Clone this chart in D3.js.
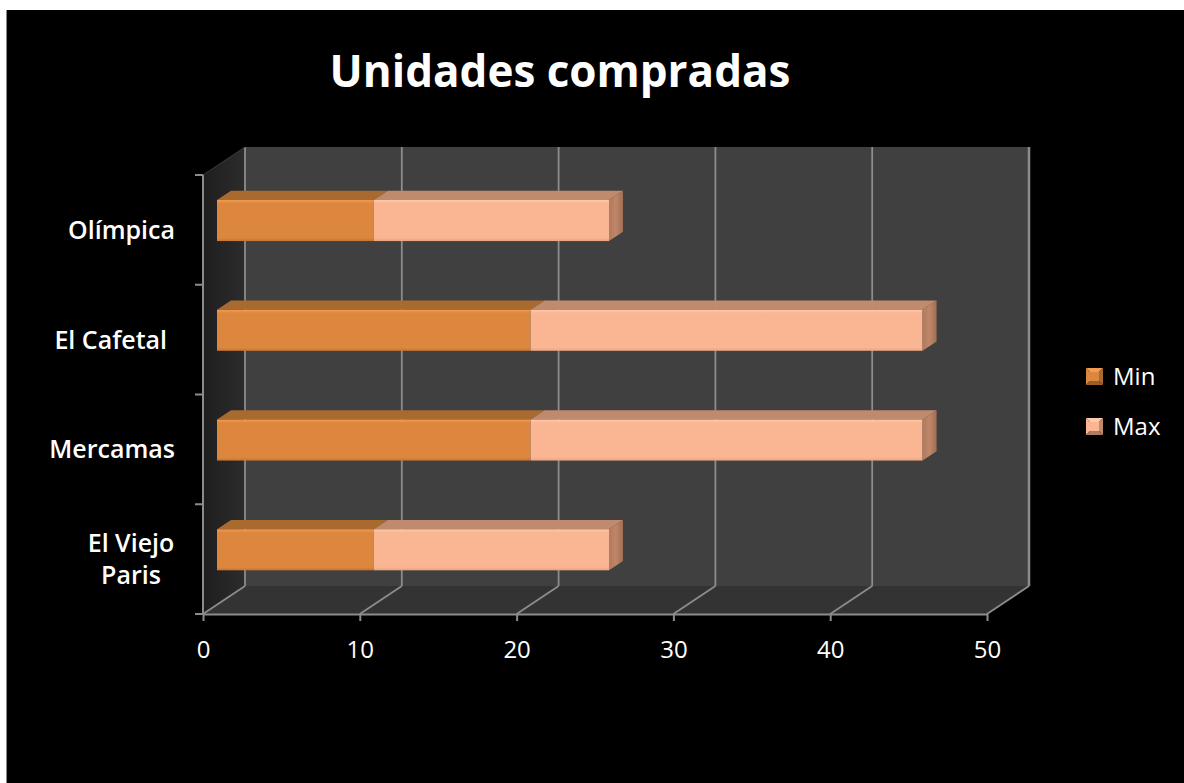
<!DOCTYPE html>
<html>
<head>
<meta charset="utf-8">
<script src="https://cdn.jsdelivr.net/npm/d3@7"></script>
<style>
  body { margin: 0; background: #fff; }
  text { font-family: "Open Sans", "DejaVu Sans", sans-serif; fill: #fff; }
</style>
</head>
<body>
<div id="chart"></div>
<script>
// data
var categories = ["El Viejo Paris", "Mercamas", "El Cafetal", "Olímpica"];
var minValues = [10, 20, 20, 10];
var maxValues = [15, 25, 25, 15];
var seriesNames = ["Min", "Max"];
var xTicks = [0, 10, 20, 30, 40, 50];
var chartTitle = "Unidades compradas";

var W = 1184, H = 783;

var svg = d3.select("#chart").append("svg")
    .attr("width", W)
    .attr("height", H);

var defs = svg.append("defs");

// black panel
svg.append("rect").attr("x", 6).attr("y", 10).attr("width", W - 6).attr("height", H - 10).attr("fill", "#000");
svg.append("line").attr("x1", 6.5).attr("x2", 6.5).attr("y1", 10).attr("y2", H).attr("stroke", "#8a8a8a").attr("stroke-width", 1);

///////////////// scales ///////////////////////
var x = d3.scaleLinear().domain([0, 50]).range([203, 987]);
var y = d3.scaleBand().domain(categories).range([614, 175]).paddingInner(0.626).paddingOuter(0.313);
var depth = { dx: 42, dy: -28 };   // full 3d depth of plot box

var yTop = 175, yBot = 614;

// walls
var gradWall = defs.append("linearGradient").attr("id", "wallGrad").attr("x1", 0).attr("x2", 1).attr("y1", 0).attr("y2", 0);
gradWall.append("stop").attr("offset", "0%").attr("stop-color", "#1e1e1e");
gradWall.append("stop").attr("offset", "100%").attr("stop-color", "#2c2c2c");

svg.append("rect")
    .attr("x", x(0) + depth.dx).attr("y", yTop + depth.dy)
    .attr("width", x(50) - x(0)).attr("height", yBot - yTop)
    .attr("fill", "#404040");

svg.append("path")
    .attr("d", "M" + x(0) + "," + yTop + "L" + (x(0) + depth.dx) + "," + (yTop + depth.dy) +
      "L" + (x(0) + depth.dx) + "," + (yBot + depth.dy) + "L" + x(0) + "," + yBot + "Z")
    .attr("fill", "url(#wallGrad)");

svg.append("path")
    .attr("d", "M" + x(0) + "," + yBot + "L" + x(50) + "," + yBot +
      "L" + (x(50) + depth.dx) + "," + (yBot + depth.dy) + "L" + (x(0) + depth.dx) + "," + (yBot + depth.dy) + "Z")
    .attr("fill", "#333333");

// grid lines (back wall + floor)
var grid = svg.append("g").attr("class", "grid");
grid.selectAll(".gv").data(xTicks).enter().append("line")
    .attr("x1", function(d) { return x(d) + depth.dx; })
    .attr("x2", function(d) { return x(d) + depth.dx; })
    .attr("y1", yTop + depth.dy)
    .attr("y2", yBot + depth.dy)
    .attr("stroke", "#8c8c8c")
    .attr("stroke-width", function(d, i) { return i == xTicks.length - 1 ? 2.5 : 1.8; });
grid.selectAll(".gd").data(xTicks).enter().append("line")
    .attr("x1", function(d) { return x(d); })
    .attr("x2", function(d) { return x(d) + depth.dx; })
    .attr("y1", yBot)
    .attr("y2", yBot + depth.dy)
    .attr("stroke", "#8c8c8c")
    .attr("stroke-width", 1.8);
// top edge of left wall
grid.append("line")
    .attr("x1", x(0)).attr("y1", yTop).attr("x2", x(0) + depth.dx).attr("y2", yTop + depth.dy)
    .attr("stroke", "#3a3a3a").attr("stroke-width", 1);

///////////////// axes ///////////////////////
var xAxis = svg.append("g")
    .attr("transform", "translate(0," + yBot + ")")
    .call(d3.axisBottom(x).tickValues(xTicks).tickSize(7).tickSizeOuter(0).tickPadding(20));
xAxis.select(".domain").attr("stroke", "#8c8c8c").attr("stroke-width", 2);
xAxis.selectAll(".tick line").attr("stroke", "#8c8c8c").attr("stroke-width", 2);
xAxis.selectAll(".tick text")
    .attr("fill", "#fff")
    .style("font-family", "'Open Sans', sans-serif")
    .style("font-size", "24px");

// vertical axis line + ticks at band boundaries
var yAxisG = svg.append("g");
yAxisG.append("line")
    .attr("x1", x(0)).attr("x2", x(0)).attr("y1", yTop).attr("y2", yBot)
    .attr("stroke", "#8c8c8c").attr("stroke-width", 2);
var bounds = categories.map(function(c) { return y(c) - y.step() * y.paddingInner() / 2; });
bounds.push(yBot);
yAxisG.selectAll(".yt").data(bounds).enter().append("line")
    .attr("x1", x(0) - 8).attr("x2", x(0))
    .attr("y1", function(d) { return d; }).attr("y2", function(d) { return d; })
    .attr("stroke", "#8c8c8c").attr("stroke-width", 2);

// category labels
var catLabels = svg.append("g");
categories.forEach(function(c) {
  var cy = y(c) + y.bandwidth() / 2;
  if (c == "El Viejo Paris") {
    var t = catLabels.append("text")
        .attr("text-anchor", "middle")
        .attr("x", 131)
        .attr("y", cy - 7)
        .style("font-size", "25px").style("font-weight", 600);
    t.append("tspan").attr("x", 131).text("El Viejo");
    t.append("tspan").attr("x", 131).attr("dy", 32).text("Paris");
  } else {
    catLabels.append("text")
        .attr("text-anchor", "end")
        .attr("x", c == "El Cafetal" ? 167 : 175)
        .attr("y", cy + 9)
        .style("font-size", "25px").style("font-weight", 600)
        .text(c);
  }
});

///////////////// bars ///////////////////////
var stackData = categories.map(function(c, i) {
  return { cat: c, Min: minValues[i], Max: maxValues[i] };
});
var stack = d3.stack().keys(seriesNames)(stackData);

var colors = {
  Min: { front: "#dd873e", hi: "#f59c52", lo: "#c97632", top: "#a96a30", side: "#9a5e28" },
  Max: { front: "#fab692", hi: "#ffcaa9", lo: "#e8a47f", top: "#c08a6f", side: "#b07b5f" }
};

seriesNames.forEach(function(k) {
  var c = colors[k];
  var g = defs.append("linearGradient").attr("id", "front" + k).attr("x1", 0).attr("x2", 0).attr("y1", 0).attr("y2", 1);
  g.append("stop").attr("offset", "0%").attr("stop-color", c.hi);
  g.append("stop").attr("offset", "8%").attr("stop-color", c.front);
  g.append("stop").attr("offset", "92%").attr("stop-color", c.front);
  g.append("stop").attr("offset", "100%").attr("stop-color", c.lo);
  var s = defs.append("linearGradient").attr("id", "side" + k).attr("x1", 0).attr("x2", 1).attr("y1", 0).attr("y2", 0);
  s.append("stop").attr("offset", "0%").attr("stop-color", c.side);
  s.append("stop").attr("offset", "50%").attr("stop-color", d3.color(c.side).brighter(0.25));
  s.append("stop").attr("offset", "100%").attr("stop-color", d3.color(c.side).darker(0.3));
});

// bar sits in middle third of the depth
var f0 = { dx: depth.dx / 3, dy: depth.dy / 3 };
var bd = { dx: depth.dx / 3, dy: depth.dy / 3 };

var bars = svg.append("g").attr("class", "bars");

stack.forEach(function(layer, li) {
  var k = layer.key;
  var lg = bars.append("g").attr("class", "layer_" + k);

  // top face
  lg.selectAll(".top").data(layer).enter().append("path")
      .attr("d", function(d) {
        var xa = x(d[0]) + f0.dx, xb = x(d[1]) + f0.dx, yt = y(d.data.cat) + f0.dy;
        return "M" + xa + "," + yt + "L" + (xa + bd.dx) + "," + (yt + bd.dy) +
          "L" + (xb + bd.dx) + "," + (yt + bd.dy) + "L" + xb + "," + yt + "Z";
      })
      .attr("fill", colors[k].top);

  // front face
  lg.selectAll(".front").data(layer).enter().append("rect")
      .attr("x", function(d) { return x(d[0]) + f0.dx; })
      .attr("y", function(d) { return y(d.data.cat) + f0.dy; })
      .attr("width", function(d) { return x(d[1]) - x(d[0]); })
      .attr("height", y.bandwidth())
      .attr("fill", "url(#front" + k + ")");

  // side face on the end of the stack
  if (li == stack.length - 1) {
    lg.selectAll(".side").data(layer).enter().append("path")
        .attr("d", function(d) {
          var xb = x(d[1]) + f0.dx, yt = y(d.data.cat) + f0.dy, yb = yt + y.bandwidth();
          return "M" + xb + "," + yt + "L" + (xb + bd.dx) + "," + (yt + bd.dy) +
            "L" + (xb + bd.dx) + "," + (yb + bd.dy) + "L" + xb + "," + yb + "Z";
        })
        .attr("fill", "url(#side" + k + ")");
  }
});

///////////////// title ///////////////////////
svg.append("text")
    .attr("x", 560)
    .attr("y", 87)
    .attr("text-anchor", "middle")
    .style("font-size", "44px")
    .style("font-weight", "bold")
    .text(chartTitle);

///////////////// legend ///////////////////////
var legend = svg.append("g").attr("transform", "translate(1086,368)");
var box = 17, inset = 4;
seriesNames.forEach(function(k, i) {
  var c = colors[k];
  var g = legend.append("g").attr("transform", "translate(0," + (i * 50) + ")");
  var pts = function(a) { return a.map(function(p) { return p.join(","); }).join(" "); };
  g.append("polygon").attr("points", pts([[0,0],[box,0],[box-inset,inset],[inset,inset]])).attr("fill", c.hi);
  g.append("polygon").attr("points", pts([[0,0],[inset,inset],[inset,box-inset],[0,box]])).attr("fill", c.front);
  g.append("polygon").attr("points", pts([[box,0],[box,box],[box-inset,box-inset],[box-inset,inset]])).attr("fill", c.top);
  g.append("polygon").attr("points", pts([[0,box],[box,box],[box-inset,box-inset],[inset,box-inset]])).attr("fill", c.side);
  g.append("rect").attr("x", inset).attr("y", inset).attr("width", box - 2 * inset).attr("height", box - 2 * inset).attr("fill", c.front);
  g.append("text")
      .attr("x", 27)
      .attr("y", 17)
      .style("font-size", "24px")
      .text(k);
});
</script>
</body>
</html>
